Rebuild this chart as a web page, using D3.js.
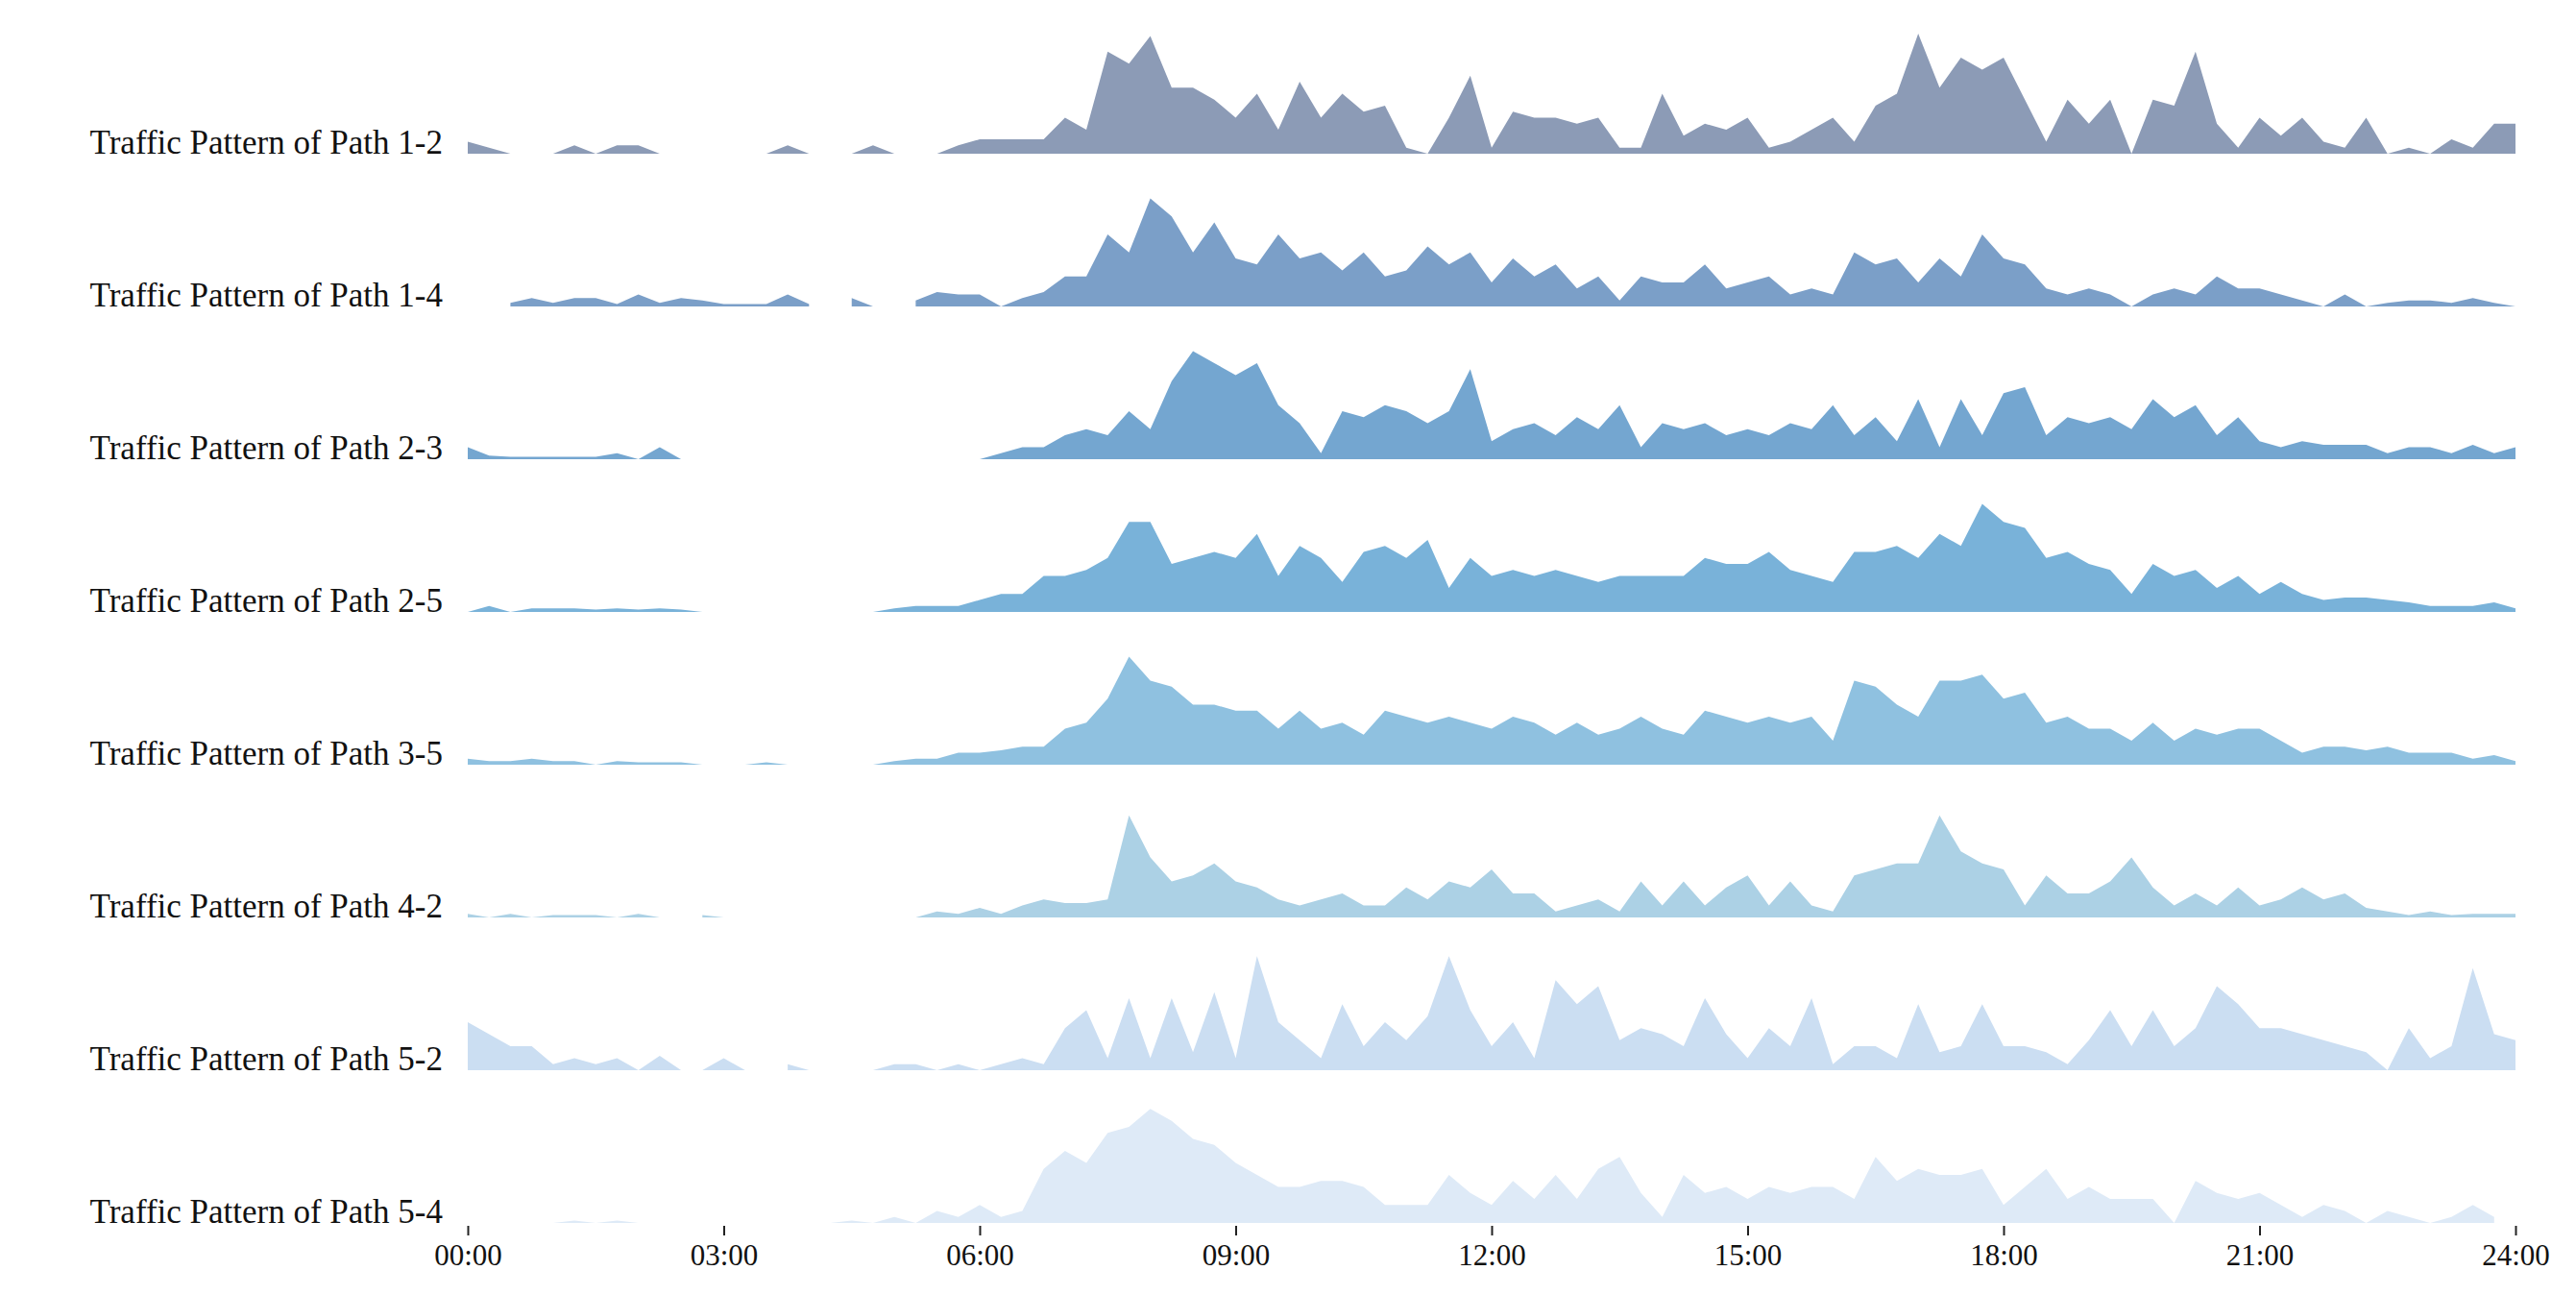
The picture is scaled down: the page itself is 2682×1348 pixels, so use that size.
<!DOCTYPE html>
<html><head><meta charset="utf-8">
<script src="https://cdn.jsdelivr.net/npm/d3@7"></script>
<style>body{margin:0;background:#fff}</style></head>
<body><svg id="c" width="2682" height="1348"></svg>
<script>
const N = null;
const categories = ["Traffic Pattern of Path 1-2","Traffic Pattern of Path 1-4","Traffic Pattern of Path 2-3","Traffic Pattern of Path 2-5","Traffic Pattern of Path 3-5","Traffic Pattern of Path 4-2","Traffic Pattern of Path 5-2","Traffic Pattern of Path 5-4"];
const tickLabels = ["00:00","03:00","06:00","09:00","12:00","15:00","18:00","21:00","24:00"];
// values every 15 minutes from 00:00 to 24:00 (97 points), null = no data
const path12 = [0.1,0.05,0,N,0,0.07,0,0.07,0.07,0,N,N,N,N,0,0.07,0,N,0,0.07,0,N,0,0.07,0.12,0.12,0.12,0.12,0.3,0.2,0.85,0.75,0.98,0.55,0.55,0.45,0.3,0.5,0.2,0.6,0.3,0.5,0.35,0.4,0.05,0,0.3,0.65,0.05,0.35,0.3,0.3,0.25,0.3,0.05,0.05,0.5,0.15,0.25,0.2,0.3,0.05,0.1,0.2,0.3,0.1,0.4,0.5,1.0,0.55,0.8,0.7,0.8,0.45,0.1,0.45,0.25,0.45,0,0.45,0.4,0.85,0.25,0.05,0.3,0.15,0.3,0.1,0.05,0.3,0,0.05,0,0.12,0.05,0.25,0.25];
const path14 = [0.03,N,0.03,0.07,0.03,0.07,0.07,0.02,0.1,0.03,0.07,0.05,0.02,0.02,0.02,0.1,0.02,N,0.07,0,N,0.05,0.12,0.1,0.1,0,0.07,0.12,0.25,0.25,0.6,0.45,0.9,0.75,0.45,0.7,0.4,0.35,0.6,0.4,0.45,0.3,0.45,0.25,0.3,0.5,0.35,0.45,0.2,0.4,0.25,0.35,0.15,0.25,0.05,0.25,0.2,0.2,0.35,0.15,0.2,0.25,0.1,0.15,0.1,0.45,0.35,0.4,0.2,0.4,0.25,0.6,0.4,0.35,0.15,0.1,0.15,0.1,0,0.1,0.15,0.1,0.25,0.15,0.15,0.1,0.05,0,0.1,0,0.03,0.05,0.05,0.03,0.07,0.03,0];
const path23 = [0.1,0.03,0.02,0.02,0.02,0.02,0.02,0.05,0,0.1,0,N,N,N,N,0.03,N,N,N,N,N,N,0.05,N,0,0.05,0.1,0.1,0.2,0.25,0.2,0.4,0.25,0.65,0.9,0.8,0.7,0.8,0.45,0.3,0.05,0.4,0.35,0.45,0.4,0.3,0.4,0.75,0.15,0.25,0.3,0.2,0.35,0.25,0.45,0.1,0.3,0.25,0.3,0.2,0.25,0.2,0.3,0.25,0.45,0.2,0.35,0.15,0.5,0.1,0.5,0.2,0.55,0.6,0.2,0.35,0.3,0.35,0.25,0.5,0.35,0.45,0.2,0.35,0.15,0.1,0.15,0.12,0.12,0.12,0.05,0.1,0.1,0.05,0.12,0.05,0.1];
const path25 = [0,0.05,0,0.03,0.03,0.03,0.02,0.03,0.02,0.03,0.02,0,N,N,0.02,N,N,N,N,0,0.03,0.05,0.05,0.05,0.1,0.15,0.15,0.3,0.3,0.35,0.45,0.75,0.75,0.4,0.45,0.5,0.45,0.65,0.3,0.55,0.45,0.25,0.5,0.55,0.45,0.6,0.2,0.45,0.3,0.35,0.3,0.35,0.3,0.25,0.3,0.3,0.3,0.3,0.45,0.4,0.4,0.5,0.35,0.3,0.25,0.5,0.5,0.55,0.45,0.65,0.55,0.9,0.75,0.7,0.45,0.5,0.4,0.35,0.15,0.4,0.3,0.35,0.2,0.3,0.15,0.25,0.15,0.1,0.12,0.12,0.1,0.08,0.05,0.05,0.05,0.08,0.03];
const path35 = [0.05,0.03,0.03,0.05,0.03,0.03,0,0.03,0.02,0.02,0.02,0,N,0,0.02,0,N,N,N,0,0.03,0.05,0.05,0.1,0.1,0.12,0.15,0.15,0.3,0.35,0.55,0.9,0.7,0.65,0.5,0.5,0.45,0.45,0.3,0.45,0.3,0.35,0.25,0.45,0.4,0.35,0.4,0.35,0.3,0.4,0.35,0.25,0.35,0.25,0.3,0.4,0.3,0.25,0.45,0.4,0.35,0.4,0.35,0.4,0.2,0.7,0.65,0.5,0.4,0.7,0.7,0.75,0.55,0.6,0.35,0.4,0.3,0.3,0.2,0.35,0.2,0.3,0.25,0.3,0.3,0.2,0.1,0.15,0.15,0.12,0.15,0.1,0.1,0.1,0.05,0.08,0.03];
const path42 = [0.03,0,0.03,0,0.02,0.02,0.02,0,0.03,0,N,0.02,0,N,N,N,N,N,N,N,N,0,0.05,0.03,0.08,0.03,0.1,0.15,0.12,0.12,0.15,0.85,0.5,0.3,0.35,0.45,0.3,0.25,0.15,0.1,0.15,0.2,0.1,0.1,0.25,0.15,0.3,0.25,0.4,0.2,0.2,0.05,0.1,0.15,0.05,0.3,0.1,0.3,0.1,0.25,0.35,0.1,0.3,0.1,0.05,0.35,0.4,0.45,0.45,0.85,0.55,0.45,0.4,0.1,0.35,0.2,0.2,0.3,0.5,0.25,0.1,0.2,0.1,0.25,0.1,0.15,0.25,0.15,0.2,0.08,0.05,0.02,0.05,0.02,0.03,0.03,0.03];
const path52 = [0.4,0.3,0.2,0.2,0.05,0.1,0.05,0.1,0,0.12,0,0,0.1,0,N,0.05,0,N,N,0,0.05,0.05,0,0.05,0,0.05,0.1,0.05,0.35,0.5,0.1,0.6,0.1,0.6,0.15,0.65,0.1,0.95,0.4,0.25,0.1,0.55,0.2,0.4,0.25,0.45,0.95,0.5,0.2,0.4,0.1,0.75,0.55,0.7,0.25,0.35,0.3,0.2,0.6,0.3,0.1,0.35,0.2,0.6,0.05,0.2,0.2,0.1,0.55,0.15,0.2,0.55,0.2,0.2,0.15,0.05,0.25,0.5,0.2,0.5,0.2,0.35,0.7,0.55,0.35,0.35,0.3,0.25,0.2,0.15,0,0.35,0.1,0.2,0.85,0.3,0.25];
const path54 = [N,N,N,N,0,0.02,0,0.02,0,N,N,N,N,N,N,N,N,0,0.02,0,0.05,0,0.1,0.05,0.15,0.05,0.1,0.45,0.6,0.5,0.75,0.8,0.95,0.85,0.7,0.65,0.5,0.4,0.3,0.3,0.35,0.35,0.3,0.15,0.15,0.15,0.4,0.25,0.15,0.35,0.2,0.4,0.2,0.45,0.55,0.25,0.05,0.4,0.25,0.3,0.2,0.3,0.25,0.3,0.3,0.2,0.55,0.35,0.45,0.4,0.4,0.45,0.15,0.3,0.45,0.2,0.3,0.2,0.2,0.2,0,0.35,0.25,0.2,0.25,0.15,0.05,0.15,0.1,0,0.1,0.05,0,0.05,0.15,0.05,N];
const series = [path12,path14,path23,path25,path35,path42,path52,path54];
const colors = ["#8c9bb6","#7b9fc8","#74a6d0","#79b2d9","#8fc1e0","#acd1e5","#cbdef2","#deeaf7"];

const svg = d3.select("#c");
const x = d3.scaleLinear().domain([0,24]).range([487,2619]);
const rowBase = d3.scaleLinear().domain([0,7]).range([160,1273]);
const unitH = 125;
series.forEach((vals,i)=>{
  const base = rowBase(i);
  const y = d3.scaleLinear().domain([0,1]).range([base, base-unitH]);
  const pts = vals.map((v,j)=>({t:j*0.25,v}));
  const area = d3.area().defined(d=>d.v!==null).x(d=>x(d.t)).y0(base).y1(d=>y(d.v));
  svg.append("path").datum(pts).attr("d",area).attr("fill",colors[i]);
  svg.append("text").attr("x",461).attr("y",base).attr("text-anchor","end")
    .attr("font-family","Liberation Serif, Times New Roman, serif").attr("font-size",35).attr("fill","#111")
    .text(categories[i]);
});
const axis = d3.axisBottom(x).tickValues(d3.range(0,25,3)).tickFormat((d,k)=>tickLabels[k]).tickSize(10).tickSizeOuter(0);
const g = svg.append("g").attr("transform","translate(0,1276)").call(axis);
g.select(".domain").remove();
g.selectAll("text").attr("font-family","Liberation Serif, Times New Roman, serif").attr("font-size",31).attr("fill","#111").attr("dy","0.9em");
g.selectAll("line").attr("stroke","#222").attr("stroke-width",2);
</script></body></html>
